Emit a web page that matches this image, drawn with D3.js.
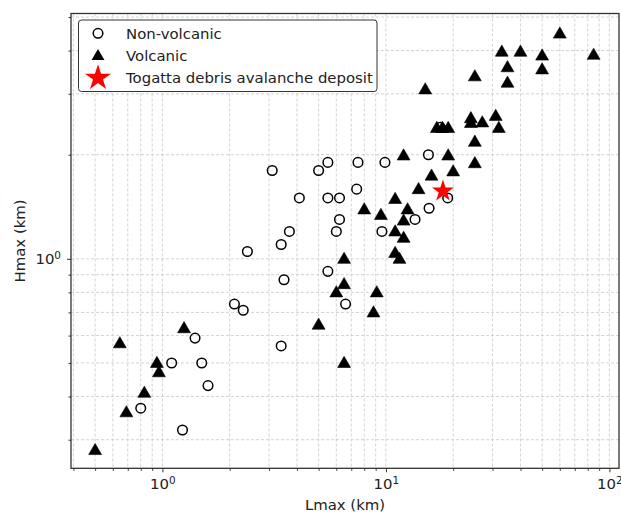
<!DOCTYPE html>
<html>
<head>
<meta charset="utf-8">
<script src="https://cdn.jsdelivr.net/npm/d3@7"></script>
<style>
  body { margin: 0; background: #fff; }
  svg text { font-family: "DejaVu Sans", sans-serif; }
</style>
</head>
<body>
<svg width="621" height="514"></svg>
<script>
// Non-volcanic deposits (Lmax, Hmax) in km
var nonVolcanicL = [3.1, 4.1, 5.0, 5.5, 7.5, 9.9, 15.5, 5.5, 6.2, 7.4, 6.2, 6.0, 9.6, 3.7, 3.4, 2.4,
                    13.5, 15.6, 18.9, 5.5, 3.5, 2.1, 2.3, 6.6, 3.4, 1.4, 1.1, 1.5, 1.6, 0.80, 1.23, 17.5];
var nonVolcanicH = [1.80, 1.50, 1.80, 1.90, 1.90, 1.90, 2.00, 1.50, 1.50, 1.59, 1.30, 1.20, 1.20, 1.20, 1.10, 1.05,
                    1.30, 1.40, 1.50, 0.92, 0.87, 0.74, 0.71, 0.74, 0.56, 0.59, 0.50, 0.50, 0.43, 0.37, 0.32, 2.40];

// Volcanic deposits
var volcanicL = [0.50, 0.645, 0.69, 0.83, 0.945, 0.965, 1.25, 5.0, 6.5, 8.8, 9.1, 6.0, 6.5, 6.5, 11.0, 11.5,
                 8.0, 9.5, 11.0, 12.0, 12.0, 12.5, 11.0, 14.0, 16.0, 20.0, 25.0, 19.0, 12.0, 25.0, 32.0, 31.0,
                 27.0, 24.0, 24.0, 16.9, 17.9, 19.0, 15.0, 25.0, 35.0, 35.0, 33.0, 40.0, 50.0, 50.0, 85.0, 60.0];
var volcanicH = [0.28, 0.57, 0.36, 0.41, 0.50, 0.47, 0.63, 0.645, 0.50, 0.70, 0.80, 0.80, 0.845, 1.0, 1.04, 1.0,
                 1.39, 1.34, 1.20, 1.15, 1.29, 1.39, 1.49, 1.59, 1.74, 1.79, 1.89, 1.99, 1.99, 2.18, 2.39, 2.59,
                 2.48, 2.55, 2.47, 2.39, 2.39, 2.39, 3.09, 3.37, 3.23, 3.58, 3.97, 3.97, 3.87, 3.53, 3.89, 4.48];

// Togatta debris avalanche deposit
var togattaL = [18.0];
var togattaH = [1.57];

var legendLabels = ["Non-volcanic", "Volcanic", "Togatta debris avalanche deposit"];
var xMajor = [1, 10, 100];
var yMajor = [1];

var svg = d3.select("svg");
const plot = {left: 71, right: 619, top: 13.5, bottom: 468.3};
const fontSize = 14.9;

var x = d3.scaleLog().domain([0.39, 110.4]).range([plot.left, plot.right]);
var y = d3.scaleLog().domain([0.248, 5.12]).range([plot.bottom, plot.top]);

function decades(lo, hi) {
  var v = [];
  for (var e = -1; e <= 2; e++) {
    for (var k = 1; k < 10; k++) {
      var t = k * Math.pow(10, e);
      if (t >= lo && t <= hi) v.push(+t.toPrecision(3));
    }
  }
  return v;
}
var xAll = decades(x.domain()[0], x.domain()[1]);
var yAll = decades(y.domain()[0], y.domain()[1]);
var xMinor = xAll.filter(function(d) { return xMajor.indexOf(d) < 0; });
var yMinor = yAll.filter(function(d) { return yMajor.indexOf(d) < 0; });

// 10^n labels with a real superscript
function powerLabel(sel) {
  sel.selectAll(".tick text").each(function(d) {
    var t = d3.select(this).text("").attr("font-size", fontSize).attr("fill", "#222");
    t.append("tspan").text("10");
    t.append("tspan").attr("font-size", fontSize * 0.7).attr("dy", "-0.45em")
      .text(String(Math.round(Math.log10(d))));
  });
}

// grid (major + minor)
var grid = svg.append("g").attr("stroke", "#c8c8c8").attr("stroke-width", 0.8)
  .attr("stroke-dasharray", "3,2");
grid.selectAll(".gx").data(xAll).enter().append("line")
  .attr("x1", function(d) { return x(d); }).attr("x2", function(d) { return x(d); })
  .attr("y1", plot.top).attr("y2", plot.bottom);
grid.selectAll(".gy").data(yAll).enter().append("line")
  .attr("y1", function(d) { return y(d); }).attr("y2", function(d) { return y(d); })
  .attr("x1", plot.left).attr("x2", plot.right);

// axes
svg.append("g").attr("transform", "translate(0," + plot.bottom + ")")
  .call(d3.axisBottom(x).tickValues(xMajor).tickSizeOuter(0).tickSize(4).tickPadding(6))
  .call(powerLabel);
svg.append("g").attr("transform", "translate(0," + plot.bottom + ")")
  .call(d3.axisBottom(x).tickValues(xMinor).tickFormat("").tickSizeOuter(0).tickSize(2.5));
svg.append("g").attr("transform", "translate(" + plot.left + ",0)")
  .call(d3.axisLeft(y).tickValues(yMajor).tickSizeOuter(0).tickSize(4).tickPadding(6))
  .call(powerLabel);
svg.append("g").attr("transform", "translate(" + plot.left + ",0)")
  .call(d3.axisLeft(y).tickValues(yMinor).tickFormat("").tickSizeOuter(0).tickSize(2.5));
svg.selectAll(".domain").remove();
svg.selectAll(".tick line").attr("stroke", "#333");

// frame
svg.append("rect").attr("x", plot.left).attr("y", plot.top)
  .attr("width", plot.right - plot.left).attr("height", plot.bottom - plot.top)
  .attr("fill", "none").attr("stroke", "#333").attr("stroke-width", 1.3);

// marks
var tri = d3.symbol().type(d3.symbolTriangle).size(72);
var star = d3.symbol().type(d3.symbolStar).size(150);

var nonVol = d3.zip(nonVolcanicL, nonVolcanicH);
var vol = d3.zip(volcanicL, volcanicH);
var tog = d3.zip(togattaL, togattaH);

svg.append("g").selectAll("circle").data(nonVol).enter().append("circle")
  .attr("cx", function(d) { return x(d[0]); })
  .attr("cy", function(d) { return y(d[1]); })
  .attr("r", 4.8).attr("fill", "none").attr("stroke", "#000").attr("stroke-width", 1.5);

svg.append("g").selectAll("path").data(vol).enter().append("path")
  .attr("d", tri)
  .attr("transform", function(d) { return "translate(" + x(d[0]) + "," + (y(d[1]) + 0.8) + ")"; })
  .attr("fill", "#000").attr("stroke", "#000").attr("stroke-width", 0.6);

svg.append("g").selectAll("path").data(tog).enter().append("path")
  .attr("d", star)
  .attr("transform", function(d) { return "translate(" + x(d[0]) + "," + y(d[1]) + ")"; })
  .attr("fill", "#ff0000");

// legend
var lg = svg.append("g");
lg.append("rect").attr("x", 78.5).attr("y", 20).attr("width", 298.5).attr("height", 71.5)
  .attr("rx", 3).attr("fill", "#fff").attr("stroke", "#333").attr("stroke-width", 1);
var rows = lg.selectAll("g.row").data(legendLabels).enter().append("g")
  .attr("transform", function(d, i) { return "translate(98," + (33.3 + i * 22.3) + ")"; });
rows.each(function(d, i) {
  var g = d3.select(this);
  if (i === 0) g.append("circle").attr("r", 4.8).attr("fill", "none").attr("stroke", "#000").attr("stroke-width", 1.5);
  if (i === 1) g.append("path").attr("d", tri).attr("fill", "#000").attr("transform", "translate(0,0.8)");
  if (i === 2) g.append("path").attr("d", d3.symbol().type(d3.symbolStar).size(210)).attr("fill", "#ff0000");
});
rows.append("text").attr("x", 28).attr("dy", "0.35em").attr("font-size", fontSize).attr("fill", "#222")
  .text(function(d) { return d; });

// axis labels
svg.append("text").attr("x", (plot.left + plot.right) / 2).attr("y", 510).attr("text-anchor", "middle")
  .attr("font-size", fontSize).attr("fill", "#222").text("Lmax (km)");
svg.append("text").attr("transform", "translate(25," + ((plot.top + plot.bottom) / 2) + ") rotate(-90)")
  .attr("text-anchor", "middle").attr("font-size", fontSize).attr("fill", "#222").text("Hmax (km)");
</script>
</body>
</html>
